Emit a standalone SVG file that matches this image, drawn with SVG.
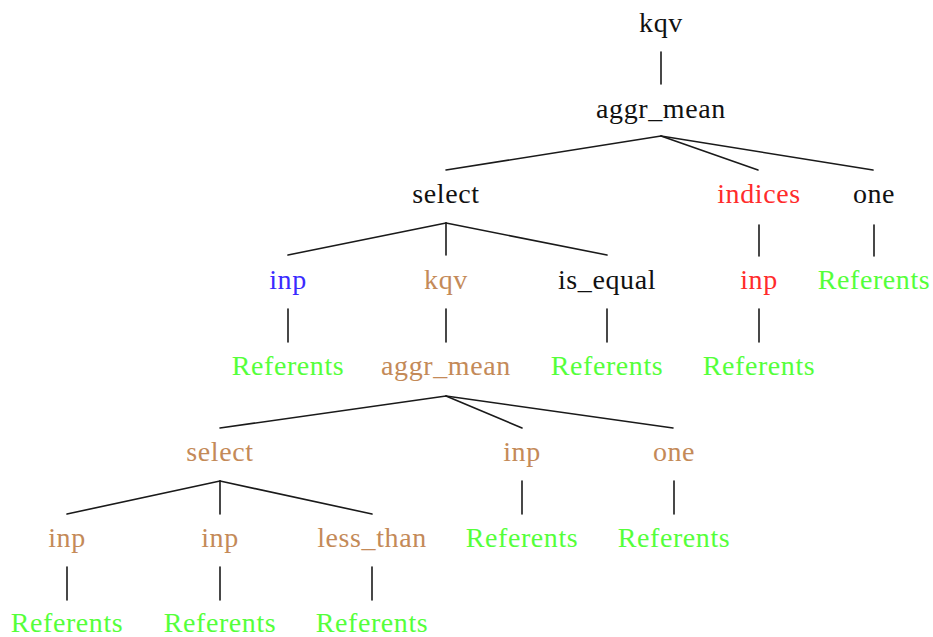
<svg xmlns="http://www.w3.org/2000/svg" width="933" height="637" viewBox="0 0 933 637">
  <style>
    text { font-family: "Liberation Serif", "DejaVu Serif", serif; font-size: 28px; text-anchor: middle; letter-spacing: 0.6px; }
    .k { fill: #111111; }
    .r { fill: #ff2b2b; }
    .b { fill: #3a2bff; }
    .n { fill: #c48a58; }
    .g { fill: #55ff3a; }
    #edges line { stroke: #1a1a1a; stroke-width: 1.6; stroke-linecap: round; }
  </style>
  <rect width="933" height="637" fill="#ffffff"/>

  <!-- tree edges -->
  <g id="edges">
    <line x1="661" y1="52" x2="661" y2="84"/>
    <line x1="661" y1="136" x2="446" y2="170"/>
    <line x1="661" y1="136" x2="758" y2="170"/>
    <line x1="661" y1="136" x2="873" y2="170"/>
    <line x1="446" y1="223" x2="288" y2="255"/>
    <line x1="446" y1="223" x2="446" y2="255"/>
    <line x1="446" y1="223" x2="607" y2="255"/>
    <line x1="759" y1="225" x2="759" y2="256"/>
    <line x1="874" y1="225" x2="874" y2="256"/>
    <line x1="288" y1="309" x2="288" y2="342"/>
    <line x1="446" y1="309" x2="446" y2="342"/>
    <line x1="607" y1="309" x2="607" y2="342"/>
    <line x1="759" y1="309" x2="759" y2="342"/>
    <line x1="446" y1="396" x2="220" y2="428"/>
    <line x1="446" y1="396" x2="522" y2="428"/>
    <line x1="446" y1="396" x2="673" y2="428"/>
    <line x1="220" y1="481" x2="67" y2="514"/>
    <line x1="220" y1="481" x2="220" y2="514"/>
    <line x1="220" y1="481" x2="372" y2="514"/>
    <line x1="522" y1="481" x2="522" y2="514"/>
    <line x1="674" y1="481" x2="674" y2="514"/>
    <line x1="67" y1="567" x2="67" y2="600"/>
    <line x1="220" y1="567" x2="220" y2="600"/>
    <line x1="372" y1="567" x2="372" y2="600"/>
  </g>

  <!-- nodes -->
  <g id="n-kqv-root"><text class="k" x="661" y="32">kqv</text></g>
  <g id="n-aggr-root"><text class="k" x="661" y="118">aggr_mean</text></g>
  <g id="n-select"><text class="k" x="446" y="203">select</text></g>
  <g id="n-indices"><text class="r" x="759" y="203">indices</text></g>
  <g id="n-one"><text class="k" x="874" y="203">one</text></g>
  <g id="n-inp-blue"><text class="b" x="288" y="289">inp</text></g>
  <g id="n-kqv-inner"><text class="n" x="446" y="289">kqv</text></g>
  <g id="n-is-equal"><text class="k" x="607" y="289">is_equal</text></g>
  <g id="n-inp-red"><text class="r" x="759" y="289">inp</text></g>
  <g id="n-ref-one"><text class="g" x="874" y="289">Referents</text></g>
  <g id="n-ref-inp-blue"><text class="g" x="288" y="375">Referents</text></g>
  <g id="n-aggr-inner"><text class="n" x="446" y="375">aggr_mean</text></g>
  <g id="n-ref-is-equal"><text class="g" x="607" y="375">Referents</text></g>
  <g id="n-ref-inp-red"><text class="g" x="759" y="375">Referents</text></g>
  <g id="n-select-inner"><text class="n" x="220" y="461">select</text></g>
  <g id="n-inp-inner"><text class="n" x="522" y="461">inp</text></g>
  <g id="n-one-inner"><text class="n" x="674" y="461">one</text></g>
  <g id="n-inp-a"><text class="n" x="67" y="547">inp</text></g>
  <g id="n-inp-b"><text class="n" x="220" y="547">inp</text></g>
  <g id="n-less-than"><text class="n" x="372" y="547">less_than</text></g>
  <g id="n-ref-inp-inner"><text class="g" x="522" y="547">Referents</text></g>
  <g id="n-ref-one-inner"><text class="g" x="674" y="547">Referents</text></g>
  <g id="n-ref-inp-a"><text class="g" x="67" y="632">Referents</text></g>
  <g id="n-ref-inp-b"><text class="g" x="220" y="632">Referents</text></g>
  <g id="n-ref-less-than"><text class="g" x="372" y="632">Referents</text></g>
</svg>
